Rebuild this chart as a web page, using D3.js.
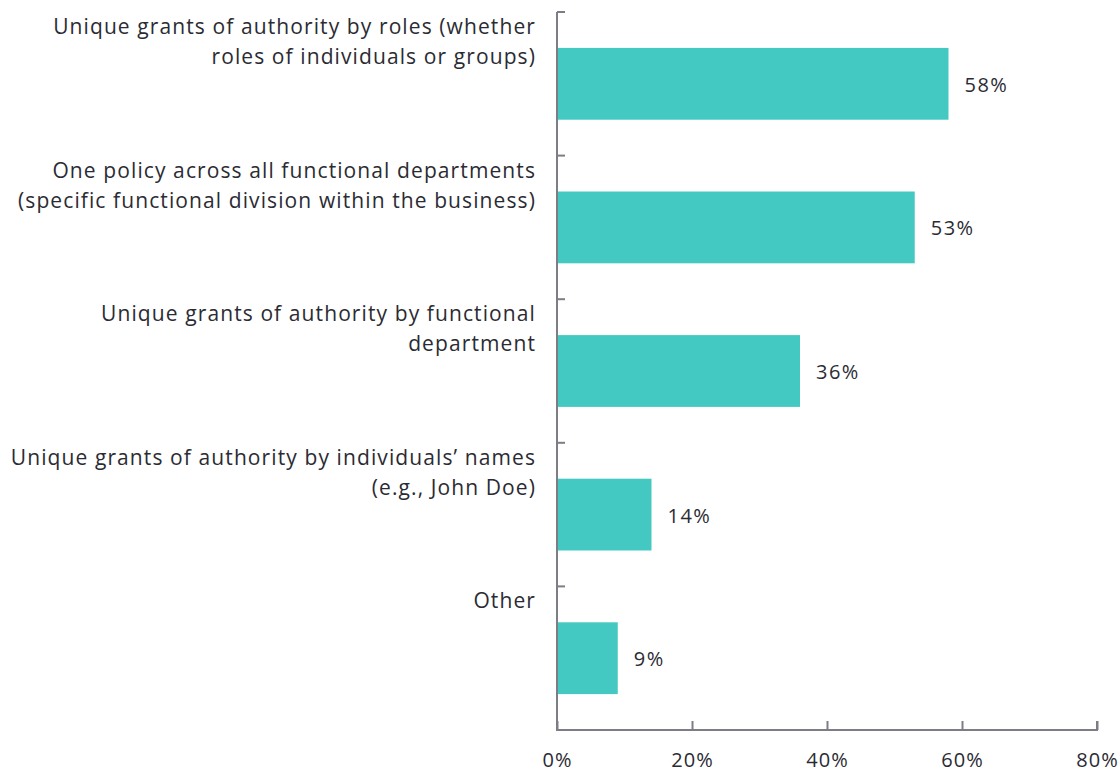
<!DOCTYPE html>
<html>
<head>
<meta charset="utf-8">
<script src="https://cdn.jsdelivr.net/npm/d3@7"></script>
<style>
  html, body { margin: 0; padding: 0; background: #ffffff; }
  svg text { font-family: "Open Sans", "DejaVu Sans", sans-serif; fill: #2b2b33; }
</style>
</head>
<body>
<svg id="chart" width="1120" height="773"></svg>
<script>
// Survey categories (each entry is a list of label lines)
const categories = [
  ["Unique grants of authority by roles (whether", "roles of individuals or groups)"],
  ["One policy across all functional departments", "(specific functional division within the business)"],
  ["Unique grants of authority by functional", "department"],
  ["Unique grants of authority by individuals\u2019 names", "(e.g., John Doe)"],
  ["Other"]
];
const values = [58, 53, 36, 14, 9];
const xTicks = [0, 20, 40, 60, 80];

const svg = d3.select("#chart");
const plotLeft = 557, plotRight = 1097, plotTop = 12, plotBottom = 730;

const x = d3.scaleLinear().domain([0, 80]).range([plotLeft, plotRight]);
const y = d3.scaleBand().domain(d3.range(values.length)).range([plotTop, plotBottom]).paddingInner(0.5).paddingOuter(0.25);
const band = d3.scaleBand().domain(d3.range(values.length)).range([plotTop, plotBottom]);

const axisColor = "#7d7d86";

// bars
svg.append("g").selectAll("rect").data(values).join("rect")
  .attr("x", x(0))
  .attr("y", (d, i) => y(i))
  .attr("width", d => x(d) - x(0))
  .attr("height", y.bandwidth())
  .attr("fill", "#44c9c2");

// value labels
svg.append("g").selectAll("text").data(values).join("text")
  .attr("x", d => x(d) + 16)
  .attr("y", (d, i) => y(i) + y.bandwidth() / 2 + 1)
  .attr("dy", "0.35em")
  .attr("font-size", 20)
  .attr("letter-spacing", "1.5px")
  .text(d => d + "%");

// category axis: vertical line with ticks at band boundaries pointing right
const yAxis = svg.append("g");
yAxis.append("line")
  .attr("x1", plotLeft).attr("x2", plotLeft).attr("y1", plotTop).attr("y2", plotBottom)
  .attr("stroke", axisColor).attr("stroke-width", 2);
const boundaries = d3.range(values.length + 1).map(i => i < values.length ? band(i) : plotBottom);
yAxis.selectAll("line.tick").data(boundaries).join("line")
  .attr("class", "tick")
  .attr("x1", plotLeft).attr("x2", plotLeft + 8)
  .attr("y1", d => d).attr("y2", d => d)
  .attr("stroke", axisColor).attr("stroke-width", 2);

// category labels, right-aligned, starting near the top of each band
const labels = svg.append("g").selectAll("text").data(categories).join("text")
  .attr("text-anchor", "end")
  .attr("font-size", 21)
  .attr("letter-spacing", "1.1px")
  .attr("y", (d, i) => band(i) + 22);
labels.selectAll("tspan").data(d => d).join("tspan")
  .attr("x", 536)
  .attr("dy", (d, j) => j === 0 ? 0 : 30)
  .text(d => d);

// value axis
const xAxis = d3.axisBottom(x).tickValues(xTicks).tickSize(-9).tickPadding(30).tickFormat(d => d + "%");
const gx = svg.append("g").attr("transform", `translate(0,${plotBottom})`).call(xAxis);
gx.select(".domain").attr("stroke", axisColor).attr("stroke-width", 2).attr("d", `M${plotLeft},-9V0H${plotRight}V-9`);
gx.selectAll(".tick line").attr("stroke", axisColor).attr("stroke-width", 2);
gx.selectAll(".tick text")
  .attr("font-size", 20)
  .attr("letter-spacing", "1px")
  .attr("font-family", "'Open Sans', sans-serif")
  .attr("fill", "#2b2b33")
  .attr("dy", "0.35em");
</script>
</body>
</html>
